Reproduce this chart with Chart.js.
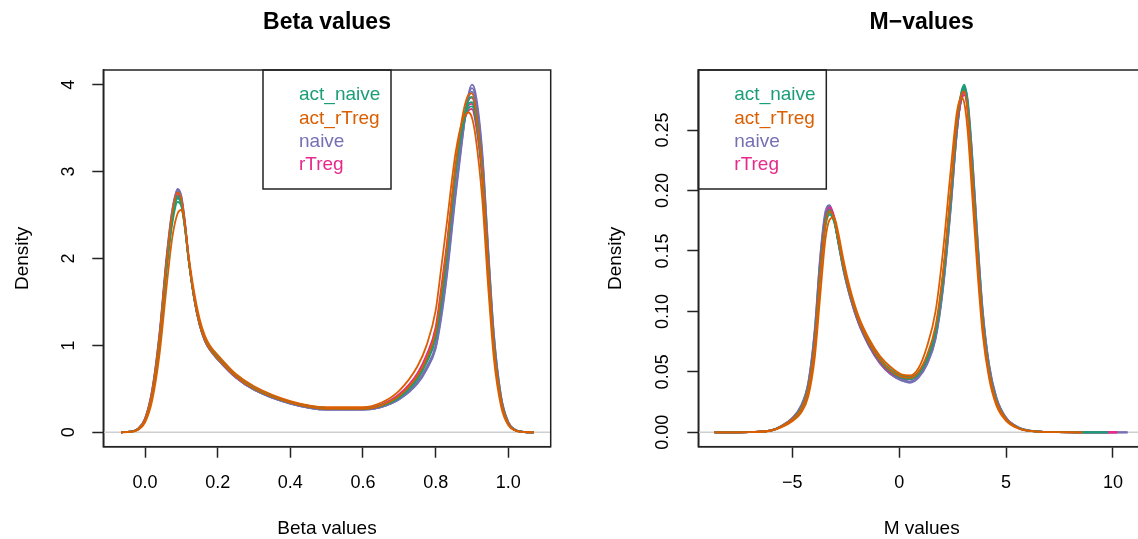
<!DOCTYPE html>
<html>
<head>
<meta charset="utf-8">
<script src="https://cdn.jsdelivr.net/npm/chart.js@4.4.0/dist/chart.umd.min.js"></script>
<style>
  html, body { margin: 0; padding: 0; background: #fff; overflow: hidden; width: 1138px; height: 539px; }
  #betaChart { position: absolute; left: 0; top: 0; }
  #mChart { position: absolute; left: 569px; top: 0; }
</style>
</head>
<body>
<canvas id="betaChart" width="569" height="539"></canvas>
<canvas id="mChart" width="600" height="539"></canvas>
<script>
// groups and colours (RColorBrewer Dark2)
const groups = ['act_naive', 'act_rTreg', 'naive', 'rTreg'];
const groupColors = ['#1B9E77', '#D95F02', '#7570B3', '#E7298A'];

// ---- Beta values panel ----
const betaX = [-0.066, -0.04, -0.02, 0, 0.02, 0.04, 0.06, 0.075, 0.09, 0.1, 0.11, 0.12, 0.135, 0.15, 0.165, 0.18, 0.2, 0.25, 0.3, 0.4,
  0.5, 0.6, 0.65, 0.7, 0.75, 0.775, 0.8, 0.815, 0.83, 0.855, 0.875, 0.89, 0.9, 0.91, 0.928, 0.945, 0.96, 0.98, 1.0, 1.02, 1.045, 1.07];

const betaActNaive = [
  [0, 0.006, 0.035, 0.14, 0.46, 1.08, 1.97, 2.48, 2.72, 2.64, 2.36, 1.98, 1.55, 1.25, 1.06, 0.95, 0.85, 0.65, 0.5, 0.34, 0.27, 0.27, 0.31, 0.41, 0.63, 0.82, 1.12, 1.52, 2.02, 3.0, 3.55, 3.78, 3.8, 3.66, 3.0, 1.9, 1.02, 0.37, 0.1, 0.023, 0.003, 0],
  [0, 0.006, 0.034, 0.14, 0.45, 1.06, 1.94, 2.45, 2.69, 2.62, 2.35, 1.98, 1.56, 1.26, 1.07, 0.96, 0.86, 0.65, 0.5, 0.34, 0.27, 0.27, 0.3, 0.4, 0.61, 0.8, 1.08, 1.48, 1.98, 2.98, 3.57, 3.82, 3.86, 3.72, 3.05, 1.93, 1.03, 0.37, 0.1, 0.023, 0.003, 0],
  [0, 0.005, 0.03, 0.13, 0.43, 1.02, 1.88, 2.4, 2.65, 2.6, 2.34, 1.99, 1.58, 1.28, 1.08, 0.97, 0.87, 0.65, 0.51, 0.35, 0.28, 0.27, 0.31, 0.42, 0.64, 0.84, 1.14, 1.55, 2.05, 3.02, 3.52, 3.73, 3.75, 3.62, 2.98, 1.9, 1.02, 0.37, 0.1, 0.022, 0.003, 0]
];
const betaActRTreg = [
  [0, 0.004, 0.025, 0.11, 0.37, 0.9, 1.7, 2.24, 2.52, 2.56, 2.38, 2.04, 1.62, 1.31, 1.11, 0.99, 0.89, 0.67, 0.53, 0.36, 0.29, 0.29, 0.34, 0.48, 0.76, 1.0, 1.4, 1.88, 2.38, 3.22, 3.6, 3.68, 3.62, 3.4, 2.7, 1.65, 0.86, 0.3, 0.08, 0.018, 0.002, 0],
  [0, 0.006, 0.036, 0.145, 0.47, 1.1, 2.0, 2.52, 2.76, 2.68, 2.39, 2.0, 1.56, 1.25, 1.06, 0.95, 0.85, 0.64, 0.5, 0.34, 0.27, 0.27, 0.31, 0.42, 0.65, 0.85, 1.16, 1.6, 2.1, 3.08, 3.66, 3.88, 3.9, 3.72, 3.02, 1.9, 1.0, 0.36, 0.1, 0.022, 0.003, 0]
];
const betaNaive = [
  [0, 0.007, 0.04, 0.16, 0.5, 1.15, 2.05, 2.56, 2.8, 2.72, 2.42, 2.02, 1.55, 1.24, 1.05, 0.94, 0.84, 0.63, 0.49, 0.33, 0.26, 0.26, 0.29, 0.38, 0.56, 0.72, 0.96, 1.3, 1.76, 2.72, 3.42, 3.88, 4.0, 3.9, 3.25, 2.1, 1.15, 0.42, 0.12, 0.027, 0.004, 0],
  [0, 0.007, 0.039, 0.155, 0.49, 1.13, 2.03, 2.55, 2.79, 2.71, 2.41, 2.01, 1.55, 1.24, 1.05, 0.94, 0.84, 0.63, 0.49, 0.33, 0.26, 0.26, 0.29, 0.38, 0.57, 0.74, 0.98, 1.34, 1.8, 2.76, 3.44, 3.86, 3.96, 3.85, 3.2, 2.07, 1.13, 0.41, 0.115, 0.026, 0.004, 0],
  [0, 0.006, 0.037, 0.15, 0.48, 1.11, 2.0, 2.52, 2.77, 2.69, 2.4, 2.0, 1.54, 1.24, 1.05, 0.94, 0.84, 0.63, 0.49, 0.33, 0.26, 0.26, 0.29, 0.39, 0.58, 0.75, 1.0, 1.37, 1.84, 2.8, 3.46, 3.84, 3.92, 3.8, 3.15, 2.03, 1.1, 0.4, 0.11, 0.025, 0.003, 0]
];
const betaRTreg = [
  [0, 0.006, 0.036, 0.145, 0.47, 1.09, 1.99, 2.5, 2.75, 2.67, 2.38, 1.99, 1.55, 1.25, 1.06, 0.95, 0.85, 0.64, 0.5, 0.34, 0.27, 0.27, 0.3, 0.41, 0.62, 0.81, 1.09, 1.5, 2.0, 2.98, 3.56, 3.82, 3.85, 3.7, 3.05, 1.95, 1.04, 0.38, 0.1, 0.023, 0.003, 0],
  [0, 0.006, 0.035, 0.14, 0.46, 1.07, 1.97, 2.48, 2.73, 2.66, 2.38, 2.0, 1.56, 1.26, 1.07, 0.96, 0.86, 0.64, 0.5, 0.34, 0.27, 0.27, 0.31, 0.42, 0.64, 0.84, 1.13, 1.55, 2.06, 3.02, 3.54, 3.76, 3.78, 3.63, 2.98, 1.9, 1.01, 0.37, 0.1, 0.022, 0.003, 0],
  [0, 0.005, 0.033, 0.135, 0.44, 1.04, 1.92, 2.44, 2.7, 2.64, 2.37, 2.0, 1.57, 1.27, 1.08, 0.97, 0.87, 0.65, 0.51, 0.35, 0.28, 0.28, 0.32, 0.44, 0.68, 0.89, 1.21, 1.65, 2.14, 3.06, 3.52, 3.7, 3.72, 3.56, 2.92, 1.86, 0.98, 0.36, 0.1, 0.022, 0.003, 0]
];
const betaXTicks = [0, 0.2, 0.4, 0.6, 0.8, 1.0];
const betaXTickLabels = ['0.0', '0.2', '0.4', '0.6', '0.8', '1.0'];
const betaYTicks = [0, 1, 2, 3, 4];
const betaYTickLabels = ['0', '1', '2', '3', '4'];

// ---- M-values panel ----
const mX = [-8.64, -7.0, -6.0, -5.5, -5.0, -4.6, -4.25, -3.95, -3.7, -3.45, -3.25, -3.05, -2.85, -2.6, -2.3, -1.9, -1.4, -0.9, -0.4, 0.1,
  0.5, 0.9, 1.3, 1.7, 2.05, 2.4, 2.7, 2.9, 3.05, 3.2, 3.4, 3.65, 3.9, 4.2, 4.55, 5.0, 5.6, 6.4, 7.4, 8.56, 9.75, 10.2, 10.68];

const mActNaive = [
  [0, 0.0002, 0.0015, 0.005, 0.011, 0.02, 0.038, 0.078, 0.135, 0.176, 0.184, 0.176, 0.158, 0.135, 0.114, 0.092, 0.073, 0.059, 0.05, 0.045, 0.044, 0.048, 0.06, 0.082, 0.125, 0.19, 0.255, 0.281, 0.2875, 0.273, 0.226, 0.155, 0.095, 0.052, 0.026, 0.011, 0.0035, 0.0007, 0.0001, 0, 0],
  [0, 0.0002, 0.0014, 0.0048, 0.0105, 0.019, 0.036, 0.075, 0.131, 0.173, 0.182, 0.175, 0.158, 0.136, 0.115, 0.093, 0.074, 0.06, 0.051, 0.046, 0.045, 0.049, 0.061, 0.084, 0.128, 0.193, 0.256, 0.28, 0.286, 0.272, 0.225, 0.154, 0.094, 0.051, 0.025, 0.011, 0.0034, 0.0007, 0.0001, 0, 0],
  [0, 0.0002, 0.0014, 0.0047, 0.0102, 0.018, 0.035, 0.073, 0.128, 0.17, 0.18, 0.174, 0.158, 0.137, 0.116, 0.094, 0.075, 0.061, 0.052, 0.047, 0.046, 0.05, 0.062, 0.085, 0.13, 0.195, 0.255, 0.278, 0.284, 0.27, 0.224, 0.153, 0.093, 0.05, 0.025, 0.011, 0.0034, 0.0007, 0.0001, 0, 0]
];
const mActRTreg = [
  [0, 0.0002, 0.0013, 0.0042, 0.0092, 0.016, 0.03, 0.062, 0.112, 0.16, 0.176, 0.178, 0.165, 0.142, 0.119, 0.096, 0.077, 0.063, 0.054, 0.048, 0.047, 0.053, 0.071, 0.1, 0.15, 0.215, 0.265, 0.277, 0.272, 0.25, 0.2, 0.136, 0.082, 0.045, 0.022, 0.0095, 0.003, 0.0006, 0.0001, 0],
  [0, 0.0002, 0.0015, 0.005, 0.0108, 0.019, 0.036, 0.074, 0.13, 0.173, 0.183, 0.177, 0.16, 0.137, 0.115, 0.093, 0.074, 0.06, 0.051, 0.046, 0.045, 0.05, 0.064, 0.088, 0.133, 0.198, 0.258, 0.279, 0.282, 0.266, 0.218, 0.149, 0.091, 0.05, 0.025, 0.011, 0.0034, 0.0007, 0.0001, 0]
];
const mNaive = [
  [0, 0.0002, 0.0016, 0.0055, 0.012, 0.022, 0.042, 0.086, 0.145, 0.183, 0.188, 0.177, 0.157, 0.133, 0.112, 0.09, 0.071, 0.057, 0.048, 0.043, 0.041, 0.045, 0.056, 0.077, 0.118, 0.182, 0.248, 0.277, 0.285, 0.276, 0.234, 0.165, 0.103, 0.057, 0.029, 0.012, 0.004, 0.0008, 0.0001, 0, 0, 0, 0],
  [0, 0.0002, 0.0016, 0.0054, 0.0118, 0.021, 0.041, 0.084, 0.143, 0.181, 0.187, 0.177, 0.157, 0.134, 0.112, 0.09, 0.071, 0.057, 0.048, 0.043, 0.042, 0.046, 0.057, 0.078, 0.12, 0.184, 0.248, 0.276, 0.283, 0.274, 0.232, 0.163, 0.101, 0.056, 0.028, 0.012, 0.0039, 0.0008, 0.0001, 0, 0, 0, 0],
  [0, 0.0002, 0.0015, 0.0052, 0.0115, 0.021, 0.04, 0.082, 0.14, 0.179, 0.185, 0.176, 0.157, 0.134, 0.113, 0.091, 0.072, 0.058, 0.049, 0.044, 0.042, 0.046, 0.058, 0.079, 0.121, 0.186, 0.249, 0.276, 0.282, 0.272, 0.23, 0.161, 0.1, 0.055, 0.028, 0.012, 0.0038, 0.0008, 0.0001, 0, 0, 0, 0]
];
const mRTreg = [
  [0, 0.0002, 0.0015, 0.005, 0.011, 0.02, 0.038, 0.079, 0.136, 0.177, 0.186, 0.179, 0.16, 0.136, 0.114, 0.091, 0.072, 0.058, 0.049, 0.045, 0.044, 0.048, 0.06, 0.083, 0.127, 0.192, 0.253, 0.276, 0.281, 0.268, 0.222, 0.152, 0.093, 0.051, 0.025, 0.011, 0.0034, 0.0007, 0.0001, 0, 0, 0],
  [0, 0.0002, 0.0015, 0.005, 0.0108, 0.019, 0.037, 0.077, 0.133, 0.175, 0.184, 0.178, 0.16, 0.137, 0.115, 0.092, 0.073, 0.059, 0.05, 0.045, 0.044, 0.048, 0.061, 0.084, 0.128, 0.193, 0.252, 0.274, 0.279, 0.266, 0.22, 0.151, 0.092, 0.05, 0.025, 0.011, 0.0033, 0.0007, 0.0001, 0, 0, 0],
  [0, 0.0002, 0.0014, 0.0048, 0.0105, 0.019, 0.036, 0.075, 0.131, 0.173, 0.182, 0.177, 0.16, 0.137, 0.115, 0.093, 0.074, 0.06, 0.051, 0.046, 0.045, 0.049, 0.061, 0.084, 0.129, 0.194, 0.255, 0.279, 0.284, 0.27, 0.223, 0.152, 0.093, 0.051, 0.025, 0.011, 0.0034, 0.0007, 0.0001, 0, 0, 0]
];
const mXTicks = [-5, 0, 5, 10];
const mXTickLabels = ['\u22125', '0', '5', '10'];
const mYTicks = [0, 0.05, 0.1, 0.15, 0.2, 0.25];
const mYTickLabels = ['0.00', '0.05', '0.10', '0.15', '0.20', '0.25'];

const FONT = "'Liberation Sans', Arial, Helvetica, sans-serif";
const AXIS = '#222';

// samples listed top-most first (Chart.js draws dataset 0 last)
function buildDatasets(xs, byGroup, xMin, xMax) {
  const order = ['act_rTreg', 'act_naive', 'rTreg', 'naive'];
  const sets = [];
  order.forEach(function (g) {
    const color = groupColors[groups.indexOf(g)];
    byGroup[g].forEach(function (ys) {
      sets.push({
        data: ys.map(function (y, i) { return { x: xs[i], y: y }; }),
        borderColor: color,
        borderWidth: 1.8,
        pointRadius: 0,
        fill: false,
        cubicInterpolationMode: 'monotone'
      });
    });
  });
  // zero line (grey)
  sets.push({
    data: [{ x: xMin, y: 0 }, { x: xMax, y: 0 }],
    borderColor: '#cfcfcf',
    borderWidth: 1.5,
    pointRadius: 0
  });
  return sets;
}

const framePlugin = {
  id: 'frame',
  afterDraw: function (chart, args, opts) {
    const ctx = chart.ctx;
    const a = chart.chartArea;
    ctx.save();
    ctx.strokeStyle = AXIS;
    ctx.lineWidth = 1.5;
    ctx.strokeRect(a.left, a.top, a.right - a.left, a.bottom - a.top);
    // legend box
    const w = 128, h = 119;
    const lx = opts.legendPos === 'top' ? (a.left + a.right) / 2 - w / 2 : a.left;
    ctx.strokeRect(lx, a.top, w, h);
    ctx.font = '19px ' + FONT;
    ctx.textBaseline = 'middle';
    ctx.textAlign = 'left';
    groups.forEach(function (g, i) {
      ctx.fillStyle = groupColors[i];
      ctx.fillText(g, lx + 36, a.top + 25 + i * 23.3);
    });
    ctx.restore();
  }
};

function makeChart(id, p) {
  return new Chart(document.getElementById(id), {
    type: 'line',
    data: { datasets: buildDatasets(p.xs, p.byGroup, p.xMin, p.xMax) },
    plugins: [framePlugin],
    options: {
      responsive: false,
      animation: false,
      layout: { padding: { left: 0, top: 0, right: p.padRight, bottom: 0 } },
      plugins: {
        legend: { display: false },
        tooltip: { enabled: false },
        frame: { legendPos: p.legendPos },
        title: {
          display: true, text: p.title, fullSize: false, color: '#000',
          font: { family: FONT, size: 23, weight: 'bold', lineHeight: 1.2 },
          padding: { top: 8.6, bottom: 33.8 }
        }
      },
      scales: {
        x: {
          type: 'linear', position: 'bottom', min: p.xMin, max: p.xMax,
          afterFit: function (s) { s.height = 92.3; },
          afterBuildTicks: function (s) { s.ticks = p.xTicks.map(function (v) { return { value: v }; }); },
          border: { display: true, color: AXIS, width: 1.5 },
          grid: { drawOnChartArea: false, drawTicks: true, tickLength: 11, tickColor: AXIS, tickWidth: 1.5 },
          ticks: {
            autoSkip: false, maxRotation: 0, padding: 14.5, color: '#000',
            font: { family: FONT, size: 18 },
            callback: function (v, i) { return p.xTickLabels[i]; }
          },
          title: {
            display: true, text: p.xTitle, color: '#000',
            font: { family: FONT, size: 19, lineHeight: 1 },
            padding: { top: 0, bottom: 0.5 }
          }
        },
        y: {
          type: 'linear', position: 'left', min: p.yMin, max: p.yMax,
          afterFit: function (s) { s.width = p.yWidth; },
          afterBuildTicks: function (s) { s.ticks = p.yTicks.map(function (v) { return { value: v }; }); },
          border: { display: true, color: AXIS, width: 1.5 },
          grid: { drawOnChartArea: false, drawTicks: true, tickLength: 11, tickColor: AXIS, tickWidth: 1.5 },
          ticks: {
            autoSkip: false, minRotation: 90, maxRotation: 90, crossAlign: 'center',
            padding: p.yTickPad, color: '#000',
            font: { family: FONT, size: 18 },
            callback: function (v, i) { return p.yTickLabels[i]; }
          },
          title: {
            display: true, text: 'Density', color: '#000',
            font: { family: FONT, size: 19, lineHeight: 1.2 },
            padding: { top: p.yTitlePad, bottom: 0 }
          }
        }
      }
    }
  });
}

makeChart('betaChart', {
  title: 'Beta values', xTitle: 'Beta values',
  xs: betaX,
  byGroup: { act_naive: betaActNaive, act_rTreg: betaActRTreg, naive: betaNaive, rTreg: betaRTreg },
  xMin: -0.1148, xMax: 1.1167, yMin: -0.166, yMax: 4.169,
  xTicks: betaXTicks, xTickLabels: betaXTickLabels,
  yTicks: betaYTicks, yTickLabels: betaYTickLabels,
  padRight: 18.3, yWidth: 103.3, yTickPad: 18, yTitlePad: 11.5,
  legendPos: 'top'
});

makeChart('mChart', {
  title: 'M\u2212values', xTitle: 'M values',
  xs: mX,
  byGroup: { act_naive: mActNaive, act_rTreg: mActRTreg, naive: mNaive, rTreg: mRTreg },
  xMin: -9.40, xMax: 11.50, yMin: -0.0119, yMax: 0.2997,
  xTicks: mXTicks, xTickLabels: mXTickLabels,
  yTicks: mYTicks, yTickLabels: mYTickLabels,
  padRight: 24, yWidth: 129.3, yTickPad: 6.5, yTitlePad: 35.1,
  legendPos: 'topleft'
});
</script>
</body>
</html>
